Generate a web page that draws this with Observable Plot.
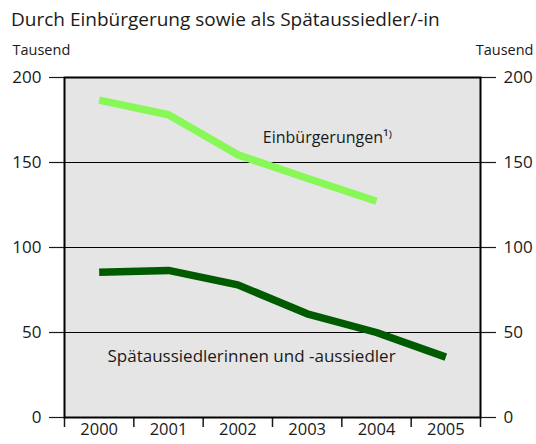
<!DOCTYPE html>
<html><head><meta charset="utf-8">
<script src="https://cdn.jsdelivr.net/npm/d3@7"></script>
<script src="https://cdn.jsdelivr.net/npm/@observablehq/plot@0.6"></script>
<style>
body{margin:0;background:#fff;font-family:"Open Sans",sans-serif;color:#1a1a1a;}
#title{height:36px;font-size:19px;line-height:1;padding-left:11px;padding-top:10px;box-sizing:border-box;}
</style></head><body>
<div id="title">Durch Einbürgerung sowie als Spätaussiedler/-in</div>
<div id="chart"></div>
<script>
const years = [2000, 2001, 2002, 2003, 2004, 2005];
const einbYears = [2000, 2001, 2002, 2003, 2004];
const einbuergerungen = [186.7, 178.1, 154.5, 140.7, 127.2];
const spaetaussiedler = [85.5, 86.5, 78, 61, 50, 35.5];
const yTicks = [0, 50, 100, 150, 200];
const yearBounds = [1999.5, 2000.5, 2001.5, 2002.5, 2003.5, 2004.5, 2005.5];
const unitLabel = "Tausend";
const seriesLabels = ["Einbürgerungen¹⁾", "Spätaussiedlerinnen und -aussiedler"];

const einbData = einbYears.map((y, i) => ({year: y, value: einbuergerungen[i]}));
const spaetData = years.map((y, i) => ({year: y, value: spaetaussiedler[i]}));

const fs = 15;
const fsTick = 17;
const chart = Plot.plot({
  width: 536,
  height: 408,
  marginTop: 41,
  marginBottom: 27,
  marginLeft: 64,
  marginRight: 56,
  style: {fontFamily: "Open Sans, sans-serif", fontSize: fs + "px", color: "#1a1a1a", background: "#fff"},
  x: {domain: [1999.5, 2005.5]},
  y: {domain: [0, 200]},
  marks: [
    Plot.frame({fill: "#e5e5e5"}),
    Plot.gridY(yTicks, {stroke: "#000", strokeOpacity: 1, strokeWidth: 1.2}),
    Plot.axisY(yTicks, {anchor: "left", tickSize: 15, tickPadding: 8, label: null, fontSize: fsTick, strokeWidth: 1.2}),
    Plot.axisY(yTicks, {anchor: "right", tickSize: 15, tickPadding: 8, label: null, fontSize: fsTick, strokeWidth: 1.2}),
    Plot.axisX(yearBounds, {anchor: "bottom", tickSize: 10, tickFormat: () => "", label: null, strokeWidth: 1.5}),
    Plot.axisX(years, {anchor: "bottom", tickSize: 0, tickPadding: 6, tickFormat: d => String(d), label: null, fontSize: 16.5}),
    Plot.line(einbData, {x: "year", y: "value", stroke: "#88f858", strokeWidth: 7.5, strokeLinecap: "butt", strokeLinejoin: "miter"}),
    Plot.line(spaetData, {x: "year", y: "value", stroke: "#005a00", strokeWidth: 7.5, strokeLinecap: "butt", strokeLinejoin: "miter"}),
    Plot.text([seriesLabels[0]], {x: 2002.36, y: 164.5, text: d => d, textAnchor: "start", fontSize: 16, fill: "#1a1a1a"}),
    Plot.text([seriesLabels[1]], {x: 2000.12, y: 36, text: d => d, textAnchor: "start", fontSize: 17, fill: "#1a1a1a"}),
    Plot.text([unitLabel], {frameAnchor: "top-left", dx: -52, dy: -33, textAnchor: "start", text: d => d, fontSize: 14.5, fill: "#1a1a1a"}),
    Plot.text([unitLabel], {frameAnchor: "top-right", dx: 53, dy: -33, textAnchor: "end", text: d => d, fontSize: 14.5, fill: "#1a1a1a"}),
    Plot.frame({stroke: "#000", strokeWidth: 2})
  ]
});
document.getElementById("chart").appendChild(chart);
</script>
</body></html>
